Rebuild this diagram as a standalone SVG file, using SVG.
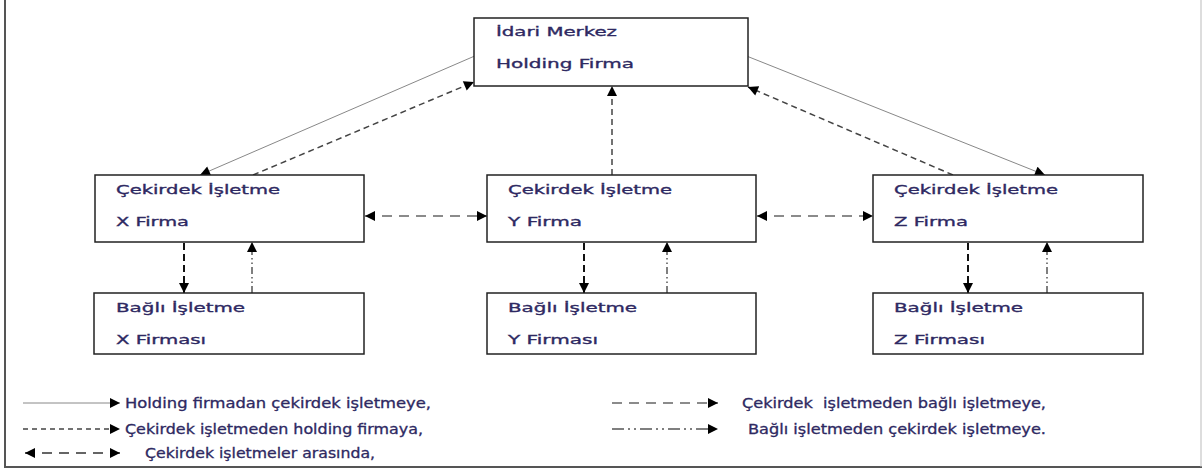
<svg xmlns="http://www.w3.org/2000/svg" width="1202" height="470" viewBox="0 0 1202 470">
<defs>
<marker id="ah" viewBox="0 0 10 10" refX="10" refY="5" markerWidth="11" markerHeight="10" orient="auto-start-reverse" markerUnits="userSpaceOnUse">
<path d="M0,0 L10,5 L0,10 z" fill="#000"/>
</marker>
<style>
.box{fill:#fff;stroke:#222;stroke-width:1.5}
.t{font-family:"DejaVu Sans","Liberation Sans",sans-serif;font-size:13px;fill:#2e2962;stroke:#2e2962;stroke-width:0.35}
.lt{font-family:"DejaVu Sans","Liberation Sans",sans-serif;font-size:13.5px;fill:#2e2962;stroke:#2e2962;stroke-width:0.3;white-space:pre}
.solid{stroke:#888;stroke-width:1;fill:none}
.dash{stroke:#444;stroke-width:1.5;stroke-dasharray:6 4;fill:none}
.ldash{stroke:#666;stroke-width:1.5;stroke-dasharray:10 7;fill:none}
.vdash{stroke:#111;stroke-width:2;stroke-dasharray:7 4;fill:none}
.dd{stroke:#555;stroke-width:1.5;stroke-dasharray:7 3 1.5 3 1.5 3;fill:none}
</style>
</defs>
<rect width="1202" height="470" fill="#fff"/>
<g id="frame">
<line x1="5" y1="0" x2="5" y2="468" stroke="#555" stroke-width="2"/>
<line x1="4" y1="467" x2="1202" y2="467" stroke="#555" stroke-width="2"/>
<line x1="1201" y1="0" x2="1201" y2="467" stroke="#bbb" stroke-width="1"/>
</g>
<g id="connectors">
<line class="solid" x1="477" y1="55" x2="200" y2="175" marker-end="url(#ah)"/>
<line class="dash" x1="253" y1="175" x2="474" y2="82" marker-end="url(#ah)"/>
<line class="solid" x1="744" y1="55" x2="1045" y2="175" marker-end="url(#ah)"/>
<line class="dash" x1="953" y1="175" x2="748" y2="87" marker-end="url(#ah)"/>
<line class="dash" x1="612" y1="175" x2="612" y2="86" marker-end="url(#ah)"/>
<line class="ldash" x1="365" y1="216" x2="487" y2="216" marker-start="url(#ah)" marker-end="url(#ah)"/>
<line class="ldash" x1="757" y1="216" x2="873" y2="216" marker-start="url(#ah)" marker-end="url(#ah)"/>
<line class="vdash" x1="184" y1="243" x2="184" y2="293" marker-end="url(#ah)"/>
<line class="vdash" x1="584" y1="243" x2="584" y2="293" marker-end="url(#ah)"/>
<line class="vdash" x1="968" y1="243" x2="968" y2="293" marker-end="url(#ah)"/>
<line class="dd" x1="252" y1="293" x2="252" y2="242" marker-end="url(#ah)"/>
<line class="dd" x1="667" y1="293" x2="667" y2="242" marker-end="url(#ah)"/>
<line class="dd" x1="1047" y1="293" x2="1047" y2="242" marker-end="url(#ah)"/>
</g>
<g id="holding">
<rect class="box" x="474" y="18" width="274" height="68"/>
<text class="t" x="496" y="36" textLength="121" lengthAdjust="spacingAndGlyphs">İdari Merkez</text>
<text class="t" x="496" y="68" textLength="138" lengthAdjust="spacingAndGlyphs">Holding Firma</text>
</g>
<g id="coreX">
<rect class="box" x="95" y="175" width="269" height="67"/>
<text class="t" x="116" y="194" textLength="164" lengthAdjust="spacingAndGlyphs">Çekirdek İşletme</text>
<text class="t" x="116" y="226" textLength="73" lengthAdjust="spacingAndGlyphs">X Firma</text>
</g>
<g id="coreY">
<rect class="box" x="487" y="175" width="269" height="67"/>
<text class="t" x="508" y="194" textLength="164" lengthAdjust="spacingAndGlyphs">Çekirdek İşletme</text>
<text class="t" x="508" y="226" textLength="74" lengthAdjust="spacingAndGlyphs">Y Firma</text>
</g>
<g id="coreZ">
<rect class="box" x="873" y="175" width="270" height="67"/>
<text class="t" x="894" y="194" textLength="164" lengthAdjust="spacingAndGlyphs">Çekirdek İşletme</text>
<text class="t" x="894" y="226" textLength="74" lengthAdjust="spacingAndGlyphs">Z Firma</text>
</g>
<g id="subX">
<rect class="box" x="94" y="293" width="270" height="61"/>
<text class="t" x="116" y="312" textLength="129" lengthAdjust="spacingAndGlyphs">Bağlı İşletme</text>
<text class="t" x="116" y="344" textLength="90" lengthAdjust="spacingAndGlyphs">X Firması</text>
</g>
<g id="subY">
<rect class="box" x="487" y="293" width="269" height="61"/>
<text class="t" x="508" y="312" textLength="129" lengthAdjust="spacingAndGlyphs">Bağlı İşletme</text>
<text class="t" x="508" y="344" textLength="90" lengthAdjust="spacingAndGlyphs">Y Firması</text>
</g>
<g id="subZ">
<rect class="box" x="873" y="293" width="270" height="61"/>
<text class="t" x="894" y="312" textLength="129" lengthAdjust="spacingAndGlyphs">Bağlı İşletme</text>
<text class="t" x="894" y="344" textLength="91" lengthAdjust="spacingAndGlyphs">Z Firması</text>
</g>
<g id="legend">
<line class="solid" x1="23" y1="403" x2="120" y2="403" marker-end="url(#ah)"/>
<text class="lt" x="125" y="408" textLength="306" lengthAdjust="spacingAndGlyphs">Holding firmadan çekirdek işletmeye,</text>
<line class="dash" x1="23" y1="429" x2="120" y2="429" marker-end="url(#ah)" style="stroke-dasharray:5 4"/>
<text class="lt" x="125" y="434" textLength="298" lengthAdjust="spacingAndGlyphs">Çekirdek işletmeden holding firmaya,</text>
<line class="ldash" x1="25" y1="453" x2="120" y2="453" marker-start="url(#ah)" marker-end="url(#ah)" style="stroke:#333"/>
<text class="lt" x="145" y="458" textLength="230" lengthAdjust="spacingAndGlyphs">Çekirdek işletmeler arasında,</text>
<line class="ldash" x1="612" y1="403" x2="718" y2="403" marker-end="url(#ah)"/>
<text class="lt" x="742" y="408" textLength="304" lengthAdjust="spacingAndGlyphs">Çekirdek  işletmeden bağlı işletmeye,</text>
<line class="dd" x1="612" y1="429" x2="718" y2="429" marker-end="url(#ah)" style="stroke-dasharray:12 4 2 4 2 4"/>
<text class="lt" x="748" y="434" textLength="298" lengthAdjust="spacingAndGlyphs">Bağlı işletmeden çekirdek işletmeye.</text>
</g>
</svg>
